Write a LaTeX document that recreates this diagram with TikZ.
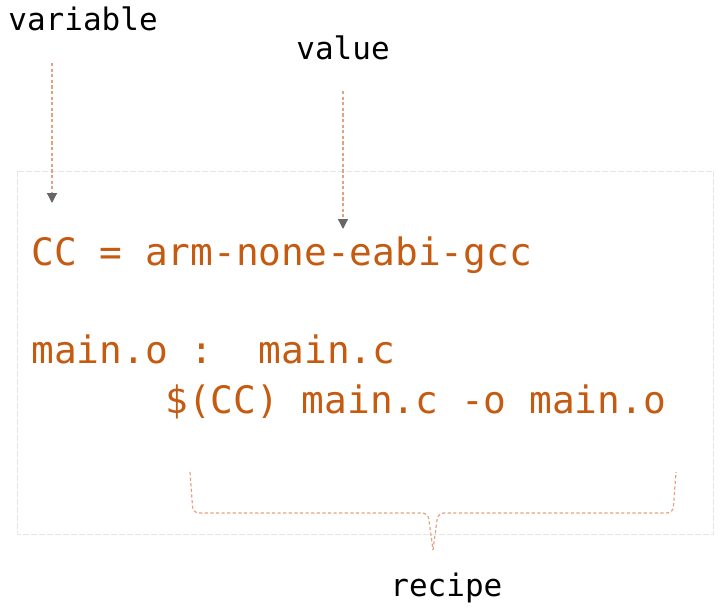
\documentclass[tikz,border=0pt]{standalone}
\usepackage{fontspec}
\setmonofont{DejaVu Sans Mono}
\usetikzlibrary{arrows.meta}

\definecolor{codeorange}{HTML}{C55A11}
\definecolor{dashsalmon}{HTML}{E3A182}
\definecolor{boxgray}{HTML}{E6E6E6}
\definecolor{headgray}{HTML}{666666}

\begin{document}
\begin{tikzpicture}[
  x=0.5pt, y=-0.5pt,
  lbl/.style={anchor=base west, inner sep=0pt, font=\fontsize{15.5}{18}\selectfont\ttfamily, text=black},
  code/.style={anchor=base west, inner sep=0pt, font=\fontsize{18.9}{22}\selectfont\ttfamily, text=codeorange},
  arr/.style={-{Triangle[length=5pt, width=5pt, color=headgray]}, dashsalmon, line width=0.6pt, dash pattern=on 1.6pt off 1.2pt},
  brace/.style={dashsalmon, line width=0.6pt, dash pattern=on 1.6pt off 1.2pt, rounded corners=3pt},
]
  \useasboundingbox (0,0) rectangle (720,611);

  % Frame round the makefile
  \draw[boxgray, line width=0.5pt, dash pattern=on 3pt off 1pt] (18,171) rectangle (714,534);

  % Labels
  \node[lbl] (variable) at (8,30) {variable};
  \node[lbl] (value) at (296,59) {value};
  \node[lbl] (recipe) at (390,596) {recipe};

  % Makefile lines
  \node[code] (ccdef) at (31,265) {CC = arm-none-eabi-gcc};
  \node[code] (rule) at (31,363) {main.o :\ \ main.c};
  \node[code] (cmd) at (165,413) {\$(CC) main.c -o main.o};

  % Pointers
  \coordinate (varstart) at (52,63);
  \coordinate (varend) at (52,203);
  \coordinate (valstart) at (343,91);
  \coordinate (valend) at (343,229);
  \draw[arr] (varstart) -- (varend);
  \draw[arr] (valstart) -- (valend);

  % Brace under the recipe
  \coordinate (bl) at (190,472);
  \coordinate (br) at (676,472);
  \coordinate (btip) at (433,550);
  \draw[brace] (bl) -- (193,513) -- (428,513) -- (btip);
  \draw[brace] (btip) -- (438,513) -- (673,513) -- (br);
\end{tikzpicture}
\end{document}
